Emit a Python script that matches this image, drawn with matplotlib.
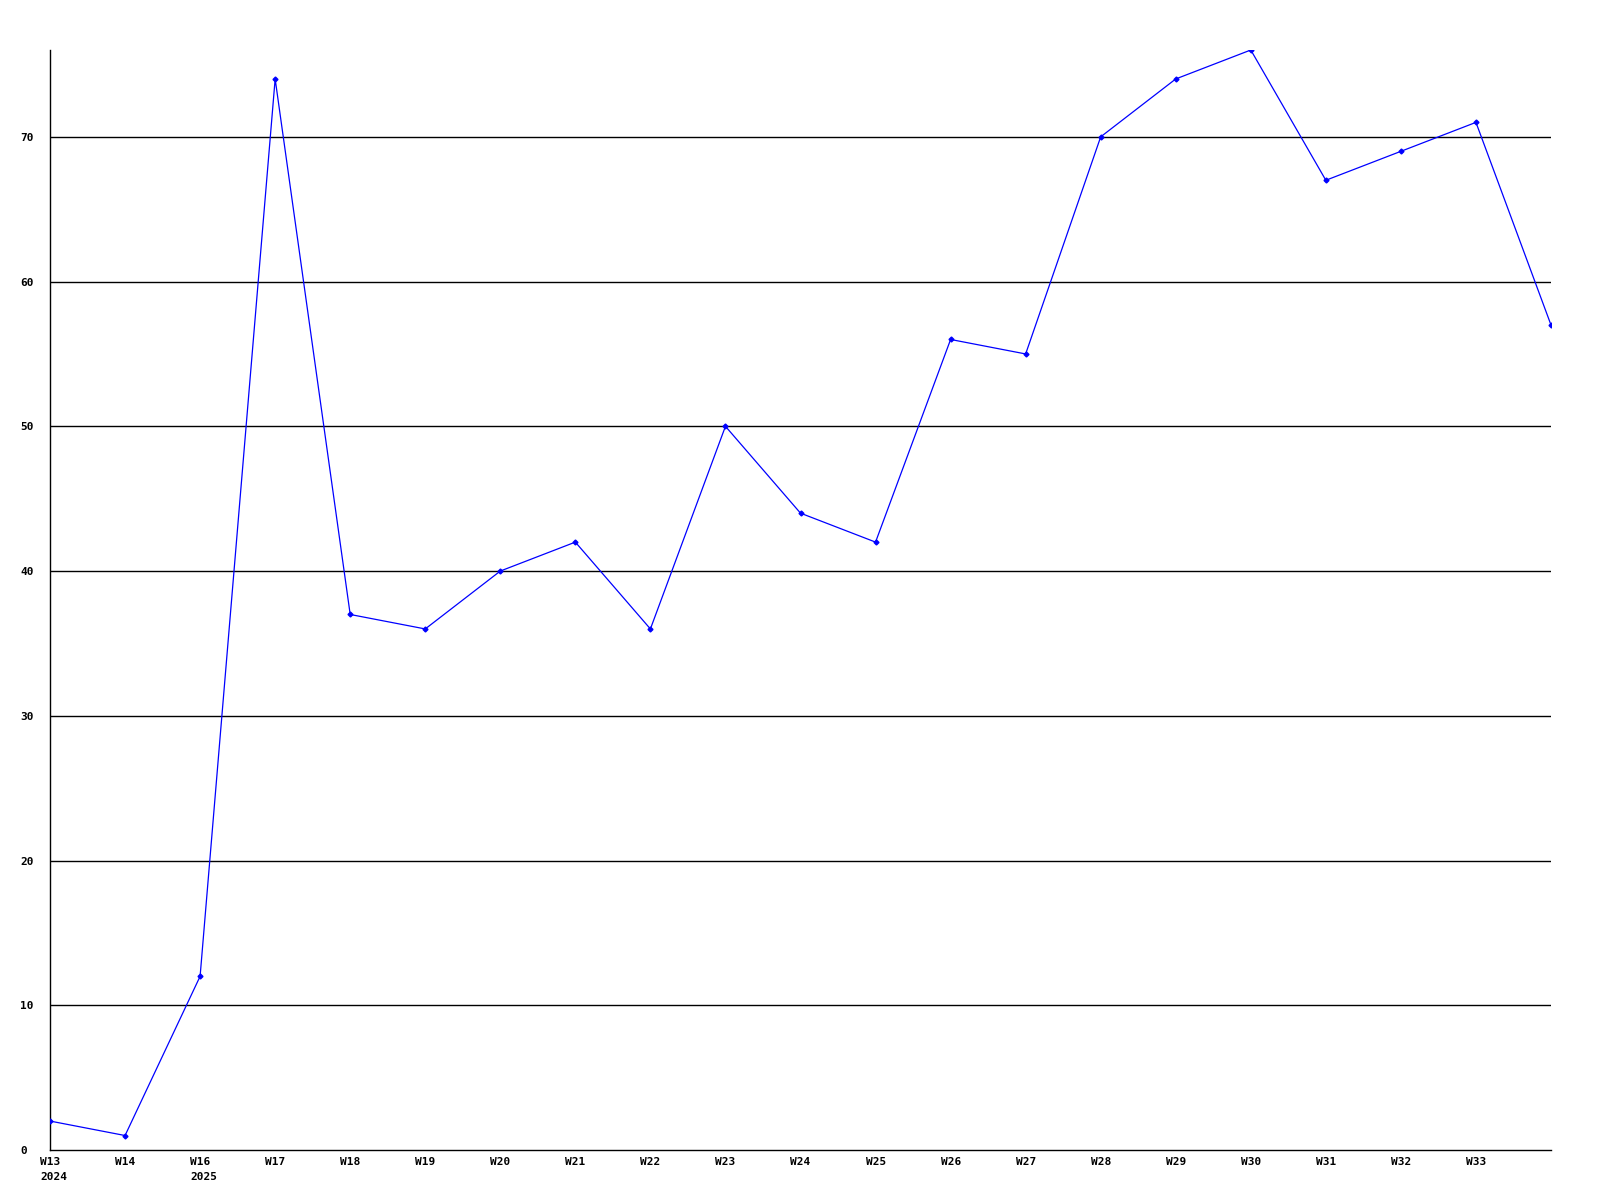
import matplotlib
matplotlib.use("Agg")
import matplotlib.pyplot as plt
import matplotlib.transforms as mtransforms

# weekly values, last point has no label (runs to the right edge)
weeks = ["W13\n2024", "W14", "W16\n2025", "W17", "W18", "W19", "W20", "W21",
         "W22", "W23", "W24", "W25", "W26", "W27", "W28", "W29", "W30",
         "W31", "W32", "W33"]
values = [2, 1, 12, 74, 37, 36, 40, 42, 36, 50, 44, 42, 56, 55, 70, 74, 76,
          67, 69, 71, 57]
yticks = [0, 10, 20, 30, 40, 50, 60, 70]

fig = plt.figure(figsize=(16, 12), dpi=100)
ax = fig.add_axes([50 / 1600, 50 / 1200, 1501 / 1600, 1100 / 1200])

x = list(range(len(values)))
ax.plot(x, values, color="#0000ff", linewidth=0.9, marker="D", markersize=2.5,
        zorder=3)

ax.set_xlim(0, len(values) - 1)
ax.set_ylim(0, max(values))

for y in yticks[1:]:
    ax.axhline(y, color="black", linewidth=1, zorder=1)

font = dict(family="DejaVu Sans Mono", weight="bold", size=8)

ax.set_yticks(yticks)
ax.set_yticklabels([str(v) for v in yticks], **font)
ax.set_xticks(range(len(weeks)))
ax.set_xticklabels(weeks, ha="left", va="top", multialignment="left",
                   linespacing=1.6, **font)
ax.tick_params(axis="both", length=0)
ax.tick_params(axis="y", pad=17)
ax.tick_params(axis="x", pad=5)

shift = mtransforms.ScaledTranslation(-10 / 100, 0, fig.dpi_scale_trans)
for lab in ax.get_xticklabels():
    lab.set_transform(lab.get_transform() + shift)
for lab in ax.get_yticklabels():
    lab.set_horizontalalignment("left")
    lab.set_transform(lab.get_transform() + mtransforms.ScaledTranslation(-6 / 100, 0, fig.dpi_scale_trans))

for s in ["top", "right"]:
    ax.spines[s].set_visible(False)
for s in ["left", "bottom"]:
    ax.spines[s].set_color("black")
    ax.spines[s].set_linewidth(1)

fig.savefig("out.png", dpi=100, facecolor="white")
